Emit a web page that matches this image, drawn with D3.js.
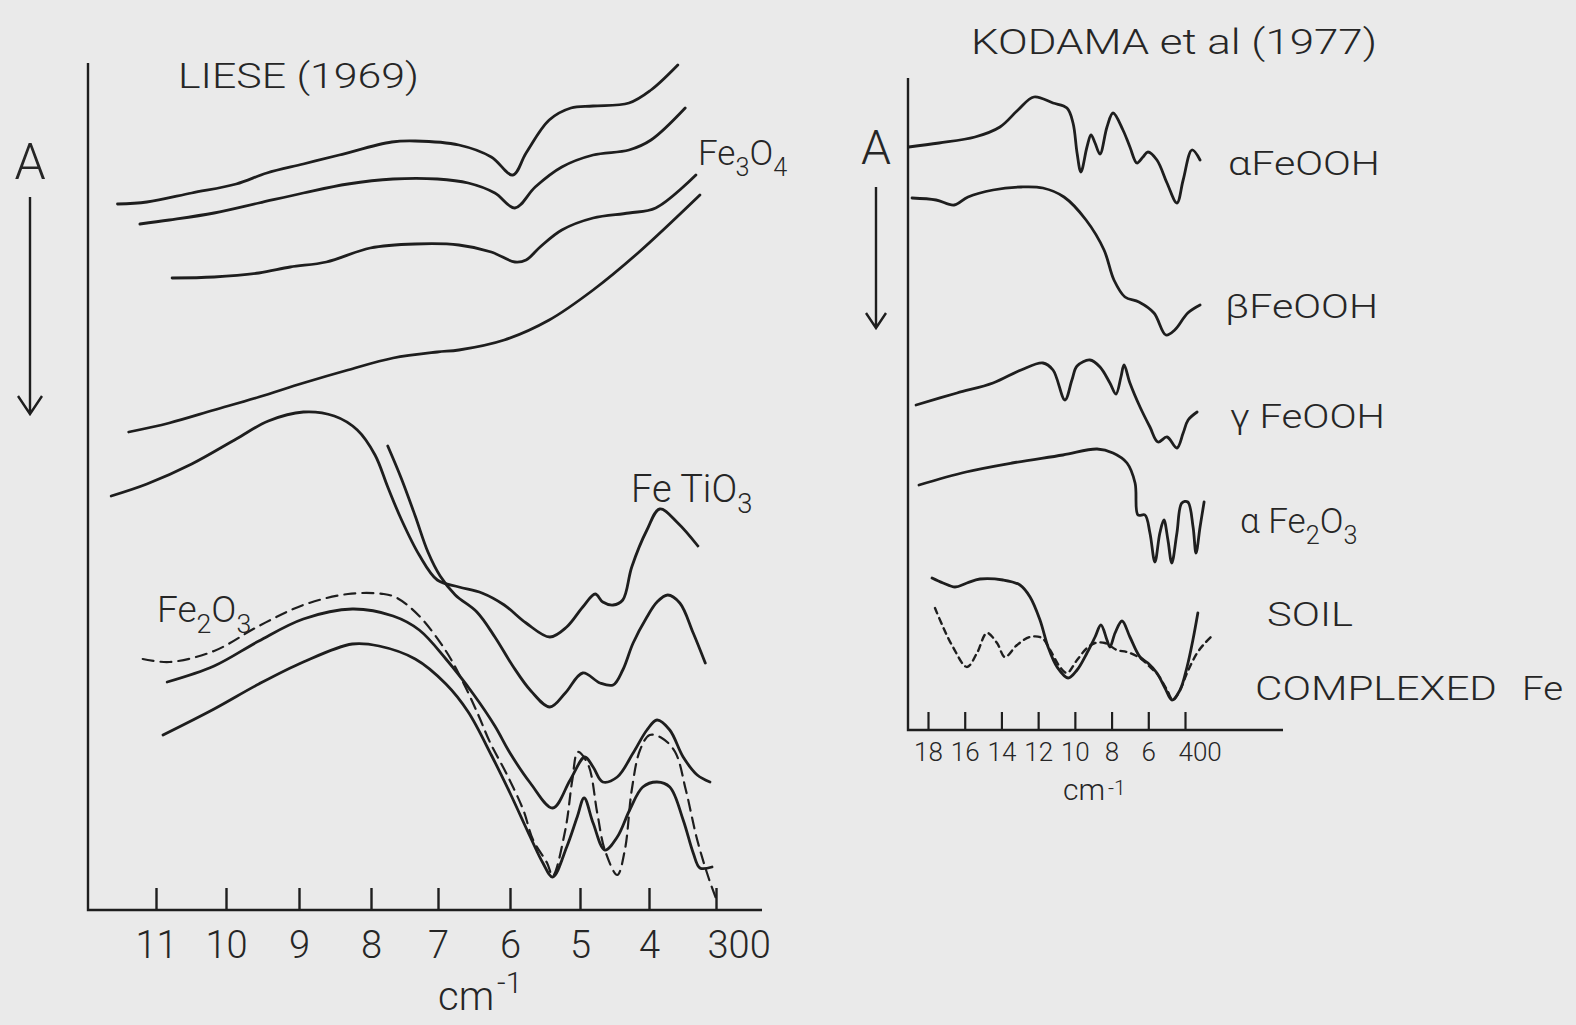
<!DOCTYPE html>
<html>
<head>
<meta charset="utf-8">
<script src="https://cdn.jsdelivr.net/npm/d3@7"></script>
<style>
	body { margin: 0; background: #eaeaea; }
	svg text { font-family: Roboto, "DejaVu Sans", sans-serif; font-weight: 300; fill: #262626; }
</style>
</head>
<body>
<svg id="chart" width="1576" height="1025"></svg>
<script>
// wavenumber (cm-1) ticks of the two panels
const lieseTicks = [1100, 1000, 900, 800, 700, 600, 500, 400, 300];
const lieseTickLabels = ["11", "10", "9", "8", "7", "6", "5", "4", "300"];
const kodamaTicks = [1800, 1600, 1400, 1200, 1000, 800, 600, 400];
const kodamaTickLabels = ["18", "16", "14", "12", "10", "8", "6", "400"];

// LIESE (1969) spectra, [wavenumber, absorbance offset], A grows downwards
const fe3o4A = [[1155,1.44],[1113,1.42],[1049,1.33],[986,1.24],[944,1.13],[894,1.04],[844,0.95],[769,0.82],[734,0.81],[671,0.85],[626,0.97],[596,1.15],[577,0.93],[544,0.60],[513,0.48],[481,0.46],[429,0.43],[397,0.30],[357,0.05]];
const fe3o4B = [[1123,1.64],[1081,1.60],[1017,1.53],[955,1.43],[894,1.33],[832,1.24],[767,1.19],[701,1.19],[658,1.23],[621,1.33],[593,1.48],[564,1.27],[526,1.07],[481,0.95],[429,0.90],[397,0.80],[346,0.48]];
const fe3o4C = [[1077,2.18],[1017,2.17],[955,2.13],[912,2.07],[862,2.02],[801,1.88],[734,1.84],[671,1.85],[626,1.92],[593,2.02],[577,2.00],[557,1.87],[526,1.70],[481,1.58],[429,1.53],[390,1.48],[330,1.15]];
const fe3o4D = [[1139,3.72],[1081,3.63],[1017,3.50],[955,3.37],[894,3.23],[832,3.10],[767,2.98],[701,2.92],[671,2.90],[608,2.80],[544,2.60],[481,2.30],[416,1.93],[324,1.35]];
const fetio3A = [[1164,4.36],[1113,4.24],[1049,4.04],[986,3.79],[942,3.61],[894,3.52],[851,3.56],[819,3.70],[794,3.95],[775,4.27],[755,4.59],[728,4.95],[701,5.20],[671,5.27],[639,5.33],[608,5.45],[577,5.63],[543,5.77],[519,5.67],[496,5.47],[478,5.34],[467,5.42],[452,5.45],[438,5.40],[425,5.07],[403,4.70],[384,4.49],[357,4.63],[327,4.86]];
const fetio3B = [[775,3.86],[755,4.18],[734,4.56],[715,4.92],[697,5.16],[676,5.35],[646,5.52],[621,5.77],[596,6.06],[570,6.31],[543,6.47],[521,6.33],[496,6.13],[471,6.23],[452,6.25],[438,6.10],[423,5.83],[403,5.57],[388,5.42],[372,5.35],[354,5.43],[334,5.73],[316,6.03]];
const fe2o3Dashed = [[1119,5.99],[1081,6.02],[1017,5.91],[955,5.66],[894,5.45],[832,5.34],[781,5.34],[761,5.38],[728,5.56],[689,5.91],[664,6.24],[644,6.55],[628,6.82],[604,7.15],[581,7.50],[567,7.80],[547,8.03],[539,8.16],[521,7.70],[511,7.20],[503,6.92],[488,7.05],[475,7.53],[464,7.90],[446,8.15],[435,7.90],[425,7.30],[413,6.90],[399,6.75],[381,6.78],[361,6.92],[345,7.30],[328,7.80],[310,8.20],[299,8.40]];
const fe2o3B = [[1084,6.22],[1017,6.06],[955,5.81],[894,5.59],[826,5.49],[767,5.56],[728,5.70],[689,5.99],[651,6.34],[621,6.66],[600,6.93],[571,7.23],[539,7.48],[514,7.20],[493,6.97],[481,7.07],[467,7.22],[446,7.17],[423,6.93],[403,6.70],[388,6.60],[369,6.70],[349,6.97],[328,7.15],[309,7.22]];
const fe2o3C = [[1090,6.75],[1017,6.49],[955,6.24],[894,6.02],[826,5.84],[788,5.86],[734,5.99],[689,6.24],[658,6.52],[626,6.95],[600,7.33],[571,7.77],[553,8.03],[539,8.17],[519,7.87],[504,7.57],[494,7.38],[481,7.63],[464,7.90],[446,7.77],[428,7.50],[409,7.27],[388,7.22],[369,7.27],[349,7.60],[334,7.93],[324,8.08],[306,8.07]];

// KODAMA et al (1977) spectra
const aFeOOH = [[1905,0.87],[1740,0.83],[1544,0.77],[1408,0.67],[1310,0.50],[1223,0.37],[1119,0.43],[1043,0.48],[1010,0.63],[988,0.93],[967,1.12],[934,0.87],[912,0.75],[890,0.83],[863,0.94],[825,0.67],[792,0.53],[738,0.70],[700,0.87],[662,1.03],[629,0.97],[602,0.92],[553,1.00],[498,1.23],[444,1.43],[410,1.20],[362,0.90],[318,1.00]];
const bFeOOH = [[1887,1.38],[1756,1.40],[1658,1.45],[1582,1.37],[1446,1.30],[1293,1.27],[1174,1.28],[1059,1.37],[939,1.60],[841,1.90],[787,2.20],[727,2.37],[651,2.42],[569,2.53],[504,2.75],[456,2.70],[385,2.53],[318,2.45]];
const gFeOOH = [[1865,3.45],[1642,3.33],[1446,3.23],[1293,3.10],[1174,3.03],[1119,3.10],[1054,3.40],[1016,3.20],[988,3.06],[918,3.00],[863,3.07],[809,3.23],[776,3.34],[749,3.17],[732,3.05],[700,3.23],[645,3.47],[591,3.67],[547,3.82],[498,3.77],[444,3.88],[410,3.73],[383,3.60],[334,3.52]];
const aFe2O3 = [[1849,4.25],[1593,4.12],[1342,4.03],[1065,3.95],[879,3.89],[792,3.93],[716,4.03],[672,4.23],[656,4.55],[618,4.55],[591,4.73],[564,5.02],[537,4.73],[515,4.60],[493,4.80],[472,5.03],[444,4.73],[417,4.43],[385,4.42],[356,4.67],[340,4.93],[318,4.67],[296,4.42]];
const soil = [[1778,5.18],[1718,5.23],[1653,5.27],[1588,5.23],[1517,5.19],[1391,5.20],[1299,5.25],[1244,5.37],[1190,5.60],[1146,5.87],[1097,6.07],[1037,6.18],[988,6.10],[934,5.93],[890,5.77],[858,5.65],[825,5.80],[809,5.87],[781,5.73],[743,5.61],[700,5.77],[645,5.97],[602,6.03],[553,6.13],[509,6.28],[471,6.40],[427,6.30],[389,6.07],[357,5.80],[330,5.53]];
const complexedFe = [[1762,5.48],[1718,5.67],[1664,5.87],[1588,6.07],[1533,5.93],[1479,5.73],[1424,5.83],[1381,5.97],[1315,5.85],[1244,5.77],[1179,5.78],[1135,5.90],[1081,6.07],[1043,6.13],[988,6.00],[934,5.88],[890,5.83],[836,5.83],[771,5.90],[716,5.92],[645,5.98],[591,6.07],[547,6.15],[498,6.30],[466,6.40],[427,6.30],[389,6.13],[334,5.93],[291,5.83],[248,5.75]];

const ink = '#1e1e1e';
const svg = d3.select('#chart');

// hand drawn axis is uneven, so the left scale is calibrated on every tick
const xL = d3.scaleLinear().domain(lieseTicks).range([156, 226, 299, 371, 438, 510, 580, 649, 716]);
const xR = d3.scaleLinear().domain([1800, 400]).range([928, 1185]);
const y = d3.scaleLinear().domain([0, 8.5]).range([60, 910]);

function lineFor(xs) {
	return d3.line()
		.x(d => xs(d[0]))
		.y(d => y(d[1]))
		.curve(d3.curveCatmullRom.alpha(0.5));
}

function drawCurve(data, xs, dash, width) {
	svg.append('path')
		.datum(data)
		.attr('d', lineFor(xs))
		.attr('fill', 'none')
		.attr('stroke', ink)
		.attr('stroke-width', width || 2.8)
		.attr('stroke-linejoin', 'round')
		.attr('stroke-linecap', 'round')
		.attr('stroke-dasharray', dash || null);
}

// frames
function frame(x0, yTop, yBase, x1) {
	svg.append('path')
		.attr('d', 'M' + x0 + ',' + yTop + 'V' + yBase + 'H' + x1)
		.attr('fill', 'none')
		.attr('stroke', ink)
		.attr('stroke-width', 2.4);
}
frame(88, 63, 910, 762);
frame(908, 78, 730, 1283);

let axL = d3.axisBottom(xL)
	.tickValues(lieseTicks)
	.tickFormat((d, i) => lieseTickLabels[i])
	.tickSize(-22)
	.tickPadding(21);

let gL = svg.append('g').attr('transform', 'translate(0,910)').call(axL);
gL.select('.domain').remove();
gL.attr('font-family', null).attr('font-size', 38);
gL.selectAll('line').attr('stroke', ink).attr('stroke-width', 2.4);
gL.selectAll('text').attr('fill', '#262626');
gL.selectAll('.tick:last-of-type text').attr('text-anchor', 'start').attr('dx', -9);

let axR = d3.axisBottom(xR)
	.tickValues(kodamaTicks)
	.tickFormat((d, i) => kodamaTickLabels[i])
	.tickSize(-18)
	.tickPadding(13);

let gR = svg.append('g').attr('transform', 'translate(0,730)').call(axR);
gR.select('.domain').remove();
gR.attr('font-family', null).attr('font-size', 26);
gR.selectAll('line').attr('stroke', ink).attr('stroke-width', 2.2);
gR.selectAll('text').attr('fill', '#262626');
gR.selectAll('.tick:last-of-type text').attr('text-anchor', 'start').attr('dx', -7);

// spectra
drawCurve(fe3o4A, xL);
drawCurve(fe3o4B, xL);
drawCurve(fe3o4C, xL);
drawCurve(fe3o4D, xL);
drawCurve(fetio3A, xL);
drawCurve(fetio3B, xL);
drawCurve(fe2o3B, xL);
drawCurve(fe2o3C, xL);
drawCurve(fe2o3Dashed, xL, '11,7', 2.2);

drawCurve(aFeOOH, xR);
drawCurve(bFeOOH, xR);
drawCurve(gFeOOH, xR);
drawCurve(aFe2O3, xR);
drawCurve(soil, xR);
drawCurve(complexedFe, xR, '6,5', 2.4);

// text with optional subscripts
function label(x, yb, parts, size, width) {
	let t = svg.append('text')
		.attr('x', x)
		.attr('y', yb)
		.attr('font-size', size);
	let shift = Math.round(size * 0.3);
	let down = false;
	parts.forEach(p => {
		let span = t.append('tspan');
		if (typeof p === 'string') {
			span.text(p);
			if (down) { span.attr('dy', -shift); down = false; }
		} else {
			span.text(p.sub).attr('font-size', size * 0.72);
			if (!down) { span.attr('dy', shift); down = true; }
		}
	});
	if (width) t.attr('textLength', width).attr('lengthAdjust', 'spacingAndGlyphs');
	return t;
}

label(178, 88, ['LIESE (1969)'], 35, 241);
label(698, 165, ['Fe', {sub: '3'}, 'O', {sub: '4'}], 35);
label(631, 502, ['Fe TiO', {sub: '3'}], 38);
label(157, 622, ['Fe', {sub: '2'}, 'O', {sub: '3'}], 37);

label(971, 54, ['KODAMA et al (1977)'], 35, 406);
label(1228, 175, ['αFeOOH'], 33, 152);
label(1225, 318, ['βFeOOH'], 33, 153);
label(1230, 428, ['γ FeOOH'], 33, 155);
label(1240, 533, ['α Fe', {sub: '2'}, 'O', {sub: '3'}], 35);
label(1267, 626, ['SOIL'], 33, 86);
label(1255, 700, ['COMPLEXED'], 33, 242);
label(1522, 700, ['Fe'], 33, 41);

// cm-1 unit labels
function unit(x, yb, size, supSize, rise) {
	let t = svg.append('text').attr('x', x).attr('y', yb).attr('font-size', size);
	t.append('tspan').text('cm');
	t.append('tspan').text('-1').attr('font-size', supSize).attr('dy', -rise).attr('dx', 3);
}
unit(438, 1010, 40, 30, 17);
unit(1063, 800, 30, 21, 5);

// A with downward arrow
function absArrow(x, yA, y0, y1, size, wing) {
	svg.append('text')
		.attr('x', x).attr('y', yA)
		.attr('text-anchor', 'middle')
		.attr('font-size', size)
		.text('A');
	svg.append('path')
		.attr('d', 'M' + x + ',' + y0 + 'V' + y1 + 'M' + (x - wing) + ',' + (y1 - wing * 1.5) + 'L' + x + ',' + y1 + 'L' + (x + wing) + ',' + (y1 - wing * 1.5))
		.attr('fill', 'none')
		.attr('stroke', ink)
		.attr('stroke-width', 2.4);
}
absArrow(30, 179, 197, 414, 50, 12);
absArrow(876, 164, 187, 328, 48, 10);
</script>
</body>
</html>
